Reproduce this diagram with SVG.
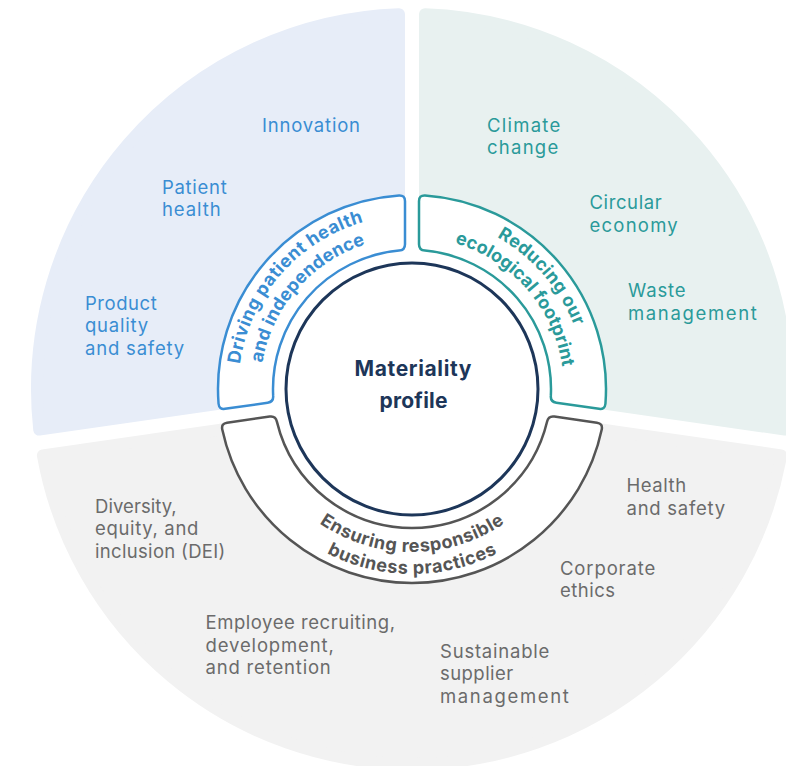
<svg xmlns="http://www.w3.org/2000/svg" width="786" height="766" viewBox="0 0 786 766">
<style>
.lbl{font-family:Inter,"Liberation Sans",sans-serif;font-size:18.5px;font-weight:400}
.rt{font-family:Inter,"Liberation Sans",sans-serif;font-size:18px;font-weight:700}
.ctr{font-family:Inter,"Liberation Sans",sans-serif;font-size:21px;font-weight:700;fill:#1d3659}
.cb{fill:#3a8dd3}.ct{fill:#2a9a9a}.cg{fill:#6b6b6b}
.ring{fill:#ffffff;stroke-width:2.5}
</style>
<defs>
<path id="pb1" d="M 240.14 416.22 A 174 174 0 0 1 415.04 215.03"/>
<path id="pb2" d="M 261.87 412.78 A 152 152 0 0 1 414.65 237.02"/>
<path id="pt1" d="M 408.96 215.03 A 174 174 0 0 1 583.86 416.22"/>
<path id="pt2" d="M 409.35 237.02 A 152 152 0 0 1 562.13 412.78"/>
<path id="pg1" d="M 287.14 493.77 A 163 163 0 0 0 536.86 493.77"/>
<path id="pg2" d="M 270.28 507.92 A 185 185 0 0 0 553.72 507.92"/>
</defs>
<rect width="786" height="766" fill="#ffffff"/>
<g id="segment-patient">
<path d="M 399 377.76 L 39.21 429.58 A 375 375 0 0 1 399 14.23 Z" fill="#e7edf8" stroke="#e7edf8" stroke-width="12" stroke-linejoin="round"/>
<text class="lbl cb" x="262" y="131.5" textLength="98">Innovation</text>
<text class="lbl cb" x="162" y="193.5" textLength="64.7">Patient</text>
<text class="lbl cb" x="162" y="216" textLength="58.7">health</text>
<text class="lbl cb" x="85" y="309.5" textLength="71.7">Product</text>
<text class="lbl cb" x="85" y="332" textLength="63.2">quality</text>
<text class="lbl cb" x="85" y="354.5" textLength="99.2">and safety</text>
</g>
<g id="segment-ecological">
<path d="M 425 377.76 L 784.79 429.58 A 375 375 0 0 0 425 14.23 Z" fill="#e8f1f0" stroke="#e8f1f0" stroke-width="12" stroke-linejoin="round"/>
<text class="lbl ct" x="487" y="131.5" textLength="73.2">Climate</text>
<text class="lbl ct" x="487" y="154" textLength="71.2">change</text>
<text class="lbl ct" x="589.5" y="209" textLength="72.2">Circular</text>
<text class="lbl ct" x="589.5" y="231.5" textLength="88.2">economy</text>
<text class="lbl ct" x="628" y="297" textLength="57.6">Waste</text>
<text class="lbl ct" x="628" y="319.5" textLength="128.8">management</text>
</g>
<g id="segment-business">
<path d="M 412 402.13 L 781.09 455.32 A 375 375 0 0 1 42.91 455.32 Z" fill="#f2f2f2" stroke="#f2f2f2" stroke-width="12" stroke-linejoin="round"/>
<text class="lbl cg" x="95" y="512.5" textLength="81.7">Diversity,</text>
<text class="lbl cg" x="95" y="535" textLength="103.3">equity, and</text>
<text class="lbl cg" x="95" y="557.5" textLength="130.3">inclusion (DEI)</text>
<text class="lbl cg" x="205.5" y="629" textLength="189.5">Employee recruiting,</text>
<text class="lbl cg" x="205.5" y="651.5" textLength="128.3">development,</text>
<text class="lbl cg" x="205.5" y="674" textLength="125.3">and retention</text>
<text class="lbl cg" x="440" y="657.5" textLength="109.3">Sustainable</text>
<text class="lbl cg" x="440" y="680" textLength="73.2">supplier</text>
<text class="lbl cg" x="440" y="702.5" textLength="128.8">management</text>
<text class="lbl cg" x="626.5" y="492" textLength="59.6">Health</text>
<text class="lbl cg" x="626.5" y="514.5" textLength="98.7">and safety</text>
<text class="lbl cg" x="560" y="574.5" textLength="95.2">Corporate</text>
<text class="lbl cg" x="560" y="597" textLength="55.1">ethics</text>
</g>
<circle cx="412" cy="389" r="141" fill="#ffffff"/>
<g id="ring-patient">
<path class="ring" stroke="#3a8dd3" d="M 218.56 403.75 A 194 194 0 0 1 399.01 195.43 Q 405 195.13 405 201.13 L 405 244.18 Q 405 250.18 399.01 250.61 A 139 139 0 0 0 273.17 395.89 Q 273.60 401.87 267.66 402.73 L 225.05 408.86 Q 219.11 409.72 218.56 403.75 Z"/>
<text class="rt cb" text-anchor="middle"><textPath href="#pb1" startOffset="50%" textLength="199">Driving patient health</textPath></text>
<text class="rt cb" text-anchor="middle"><textPath href="#pb2" startOffset="50%" textLength="165">and independence</textPath></text>
</g>
<g id="ring-ecological">
<path class="ring" stroke="#2a9a9a" d="M 605.44 403.75 A 194 194 0 0 0 424.99 195.43 Q 419 195.13 419 201.13 L 419 244.18 Q 419 250.18 424.99 250.61 A 139 139 0 0 1 550.83 395.89 Q 550.40 401.87 556.34 402.73 L 598.95 408.86 Q 604.89 409.72 605.44 403.75 Z"/>
<text class="rt ct" text-anchor="middle"><textPath href="#pt1" startOffset="50%" textLength="120">Reducing our</textPath></text>
<text class="rt ct" text-anchor="middle"><textPath href="#pt2" startOffset="50%" textLength="173">ecological footprint</textPath></text>
</g>
<g id="ring-business">
<path class="ring" stroke="#555555" d="M 222.27 429.47 A 194 194 0 0 0 601.73 429.47 Q 602.89 423.58 596.95 422.72 L 554.34 416.59 Q 548.40 415.73 547.12 421.59 A 139 139 0 0 1 276.88 421.59 Q 275.60 415.73 269.66 416.59 L 227.05 422.72 Q 221.11 423.58 222.27 429.47 Z"/>
<text class="rt" fill="#555555" text-anchor="middle"><textPath href="#pg1" startOffset="50%" textLength="197">Ensuring responsible</textPath></text>
<text class="rt" fill="#555555" text-anchor="middle"><textPath href="#pg2" startOffset="50%" textLength="177">business practices</textPath></text>
</g>
<g id="center">
<circle cx="412" cy="389" r="126" fill="#ffffff" stroke="#1d3659" stroke-width="3"/>
<text class="ctr" x="413" y="376" text-anchor="middle" textLength="116.8">Materiality</text>
<text class="ctr" x="413.5" y="408" text-anchor="middle" textLength="68.2">profile</text>
</g>
</svg>
